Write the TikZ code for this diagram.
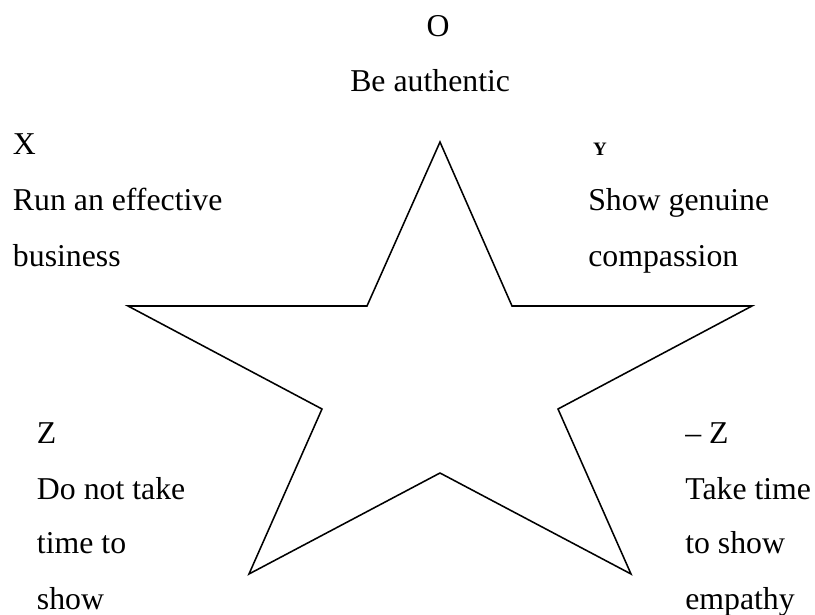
\documentclass[tikz,border=0pt]{standalone}
\usepackage{fontspec}
\setmainfont{Liberation Serif}
\usetikzlibrary{positioning}

\begin{document}
\begin{tikzpicture}[x=0.025cm, y=-0.025cm]
		\tikzstyle{word}=[anchor=base west, inner sep=0pt, font=\fontsize{22.6}{27}\selectfont]
		\tikzstyle{tiny}=[anchor=base, inner sep=0pt, font=\fontsize{13.5}{16}\selectfont\bfseries]
		\tikzstyle{star}=[draw, line width=1.1pt, line join=miter]

		\useasboundingbox (0,0) rectangle (815,615);

    % Star corners
		\coordinate (top) at (440,142);
		\coordinate (ul) at (367,306);
		\coordinate (lt) at (128,306);
		\coordinate (li) at (322,409);
		\coordinate (bl) at (249,574);
		\coordinate (bi) at (440,473);
		\coordinate (br) at (631,574);
		\coordinate (ri) at (558,409);
		\coordinate (rt) at (752,306);
		\coordinate (ur) at (512,306);

		\draw[star] (top) -- (ul) -- (lt) -- (li) -- (bl) -- (bi) -- (br) -- (ri) -- (rt) -- (ur) -- cycle;

    % Top
		\node[word, anchor=base](o) at (438,37){O};
		\node[word](o1) at (350,92){Be authentic};

    % Upper left
		\node[word](x0) at (12.7,155){X};
		\node[word](x1) at (12.7,211){Run an effective};
		\node[word](x2) at (12.7,267){business};

    % Upper right
		\node[tiny](y0) at (600,156){Y};
		\node[word](y1) at (588,211){Show genuine};
		\node[word](y2) at (588,267){compassion};

    % Lower left
		\node[word](z0) at (36.7,444){Z};
		\node[word](z1) at (36.7,500){Do not take};
		\node[word](z2) at (36.7,554){time to};
		\node[word](z3) at (36.7,609){show};

    % Lower right
		\node[word](nz0) at (685,444){– Z};
		\node[word](nz1) at (685,500){Take time};
		\node[word](nz2) at (685,554){to show};
		\node[word](nz3) at (685,609){empathy};

\end{tikzpicture}
\end{document}
